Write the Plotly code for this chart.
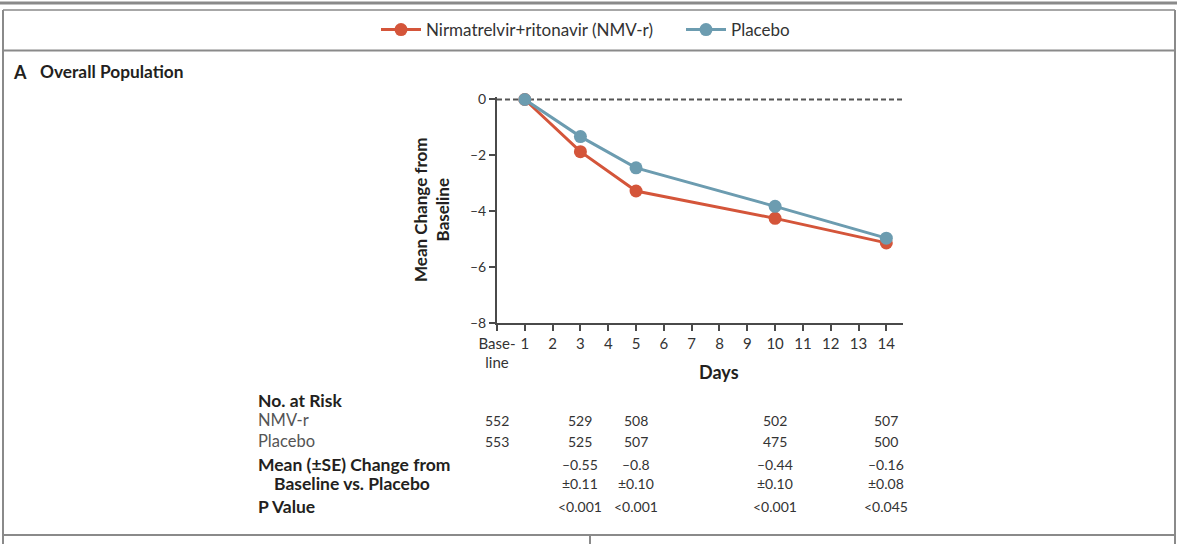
import plotly.graph_objects as go

W, H = 1177, 544
FONT = "Lato"

days = [1, 3, 5, 10, 14]
nmv = [0.0, -1.87, -3.28, -4.26, -5.14]
placebo = [0.0, -1.33, -2.45, -3.83, -4.97]

x_tickvals = [0, 1, 2, 3, 4, 5, 6, 7, 8, 9, 10, 11, 12, 13, 14]
x_ticktext = ["Base-<br>line"] + [str(d) for d in range(1, 15)]
y_tickvals = [0, -2, -4, -6, -8]
y_ticktext = ["0", "\u20132", "\u20134", "\u20136", "\u20138"]

risk_cols = [0, 3, 5, 10, 14]
risk_nmv = ["552", "529", "508", "502", "507"]
risk_placebo = ["553", "525", "507", "475", "500"]
diff_cols = [3, 5, 10, 14]
diff_mean = ["\u20130.55", "\u20130.8", "\u20130.44", "\u20130.16"]
diff_se = ["\u00b10.11", "\u00b10.10", "\u00b10.10", "\u00b10.08"]
p_values = ["<0.001", "<0.001", "<0.001", "<0.045"]

RED = "#D4553A"
BLUE = "#6C9CB0"
AX = "#4a4a4a"
TXT = "#231f20"
GREY_TXT = "#555555"


def px(x):
    return x / W


def py(y):
    return 1 - y / H


fig = go.Figure()
fig.add_trace(go.Scatter(
    x=days, y=nmv, name="Nirmatrelvir+ritonavir (NMV-r)", mode="lines+markers",
    line=dict(color=RED, width=3), marker=dict(color=RED, size=13), cliponaxis=False))
fig.add_trace(go.Scatter(
    x=days, y=placebo, name="Placebo", mode="lines+markers",
    line=dict(color=BLUE, width=3), marker=dict(color=BLUE, size=13), cliponaxis=False))

shapes = []
# zero reference line
shapes.append(dict(type="line", xref="x", yref="y", x0=0, x1=14.6, y0=0, y1=0,
                   line=dict(color="#555555", width=2, dash="5px,3px"), layer="below"))
# frame lines (paper coords)
G = "#8a8a8a"
shapes += [
    dict(type="line", xref="paper", yref="paper", x0=0, x1=1, y0=py(3), y1=py(3), line=dict(color=G, width=3)),
    dict(type="line", xref="paper", yref="paper", x0=px(3), x1=px(1175), y0=py(10), y1=py(10), line=dict(color=G, width=1.5)),
    dict(type="line", xref="paper", yref="paper", x0=px(3), x1=px(1175), y0=py(50.5), y1=py(50.5), line=dict(color=G, width=2)),
    dict(type="line", xref="paper", yref="paper", x0=px(3), x1=px(3), y0=py(10), y1=0, line=dict(color=G, width=2)),
    dict(type="line", xref="paper", yref="paper", x0=px(1175), x1=px(1175), y0=py(10), y1=0, line=dict(color=G, width=2)),
    dict(type="line", xref="paper", yref="paper", x0=px(3), x1=px(1175), y0=py(535), y1=py(535), line=dict(color=G, width=2)),
    dict(type="line", xref="paper", yref="paper", x0=px(590), x1=px(590), y0=py(535), y1=0, line=dict(color=G, width=2)),
]

ann = []
ann.append(dict(text="<b>A</b>", x=px(11), y=py(72), xref="paper", yref="paper",
                xanchor="left", yanchor="middle", showarrow=False, font=dict(size=18, color=TXT)))
ann.append(dict(text="<b>Overall Population</b>", x=px(38), y=py(72), xref="paper", yref="paper",
                xanchor="left", yanchor="middle", showarrow=False, font=dict(size=17.3, color=TXT)))
ann.append(dict(text="<b>Days</b>", x=8.0, y=py(372), xref="x", yref="paper",
                xanchor="center", yanchor="middle", showarrow=False, font=dict(size=18, color=TXT)))

# table labels
LX = px(256)
rows = [
    ("<b>No. at Risk</b>", 400, TXT, LX, 17.5),
    ("NMV-r", 420, GREY_TXT, LX, 16.5),
    ("Placebo", 441, GREY_TXT, LX, 16.5),
    ("<b>Mean (\u00b1SE) Change from</b>", 464, TXT, LX, 17.5),
    ("<b>Baseline vs. Placebo</b>", 483, TXT, px(272), 17.5),
    ("<b>P Value</b>", 506, TXT, LX, 17.5),
]
for t, y, c, x, s in rows:
    ann.append(dict(text=t, x=x, y=py(y), xref="paper", yref="paper", xanchor="left",
                    yanchor="middle", showarrow=False, font=dict(size=s, color=c)))

NUM = "#333333"
for xc, a, b in zip(risk_cols, risk_nmv, risk_placebo):
    ann.append(dict(text=a, x=xc, y=py(420), xref="x", yref="paper", xanchor="center", yanchor="middle",
                    showarrow=False, font=dict(size=14, color=NUM)))
    ann.append(dict(text=b, x=xc, y=py(441), xref="x", yref="paper", xanchor="center", yanchor="middle",
                    showarrow=False, font=dict(size=14, color=NUM)))
for xc, m, s, p in zip(diff_cols, diff_mean, diff_se, p_values):
    for t, y in ((m, 464), (s, 483), (p, 506)):
        ann.append(dict(text=t, x=xc, y=py(y), xref="x", yref="paper", xanchor="center", yanchor="middle",
                        showarrow=False, font=dict(size=14, color=NUM)))

fig.update_layout(
    width=W, height=H, margin=dict(l=0, r=0, t=0, b=0, autoexpand=False),
    paper_bgcolor="white", plot_bgcolor="white",
    font=dict(family=FONT, size=14, color=TXT),
    showlegend=True,
    legend=dict(orientation="h", x=px(376), xanchor="left", y=py(30), yanchor="middle",
                font=dict(size=17, color="#333333"), itemwidth=40, entrywidth=250,
                bgcolor="rgba(0,0,0,0)"),
    xaxis=dict(domain=[px(497), px(903)], range=[0, 14.6], tickvals=x_tickvals, ticktext=x_ticktext,
               showgrid=False, zeroline=False, showline=True, linecolor=AX, linewidth=2,
               ticks="outside", ticklen=6, tickwidth=2, tickcolor=AX, automargin=False,
               tickfont=dict(size=15, color="#333333"), fixedrange=True),
    yaxis=dict(domain=[py(322.7), py(96.7)], range=[-8, 0.1], tickvals=y_tickvals, ticktext=y_ticktext,
               showgrid=False, zeroline=False, showline=True, linecolor=AX, linewidth=2,
               ticks="outside", ticklen=6, tickwidth=2, tickcolor=AX, automargin=False,
               tickfont=dict(size=14, color="#333333"),
               title=dict(text="<b>Mean Change from<br>Baseline</b>", font=dict(size=17, color=TXT), standoff=16),
               fixedrange=True),
    shapes=shapes, annotations=ann,
)

fig.write_html(
    "out.html",
    config={"displayModeBar": False},
    post_script="document.body.style.margin='0px';document.documentElement.style.overflow='hidden';",
)
